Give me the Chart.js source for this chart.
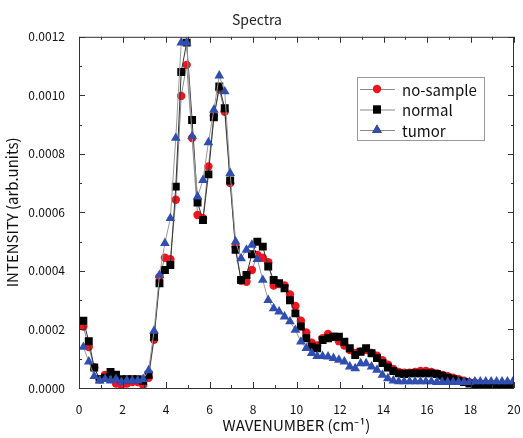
<!DOCTYPE html>
<html>
<head>
<meta charset="utf-8">
<script src="https://cdn.jsdelivr.net/npm/chart.js@4.4.0/dist/chart.umd.min.js"></script>
<style>
  html, body { margin: 0; padding: 0; background: #fff; }
  #wrap { width: 523px; height: 438px; }
</style>
</head>
<body>
<div id="wrap"><canvas id="spectra"></canvas></div>
<script>
// wavenumber (cm^-1) and intensities (arb.units)
var wavenumber = [
  0.2, 0.45, 0.7, 0.95, 1.2, 1.45, 1.7, 1.95, 2.2, 2.45,
  2.7, 2.95, 3.2, 3.45, 3.7, 3.95, 4.2, 4.45, 4.7, 4.95,
  5.2, 5.45, 5.7, 5.95, 6.2, 6.45, 6.7, 6.95, 7.2, 7.45,
  7.7, 7.95, 8.2, 8.45, 8.7, 8.95, 9.2, 9.45, 9.7, 9.95,
  10.2, 10.45, 10.7, 10.95, 11.2, 11.45, 11.7, 11.95, 12.2, 12.45,
  12.7, 12.95, 13.2, 13.45, 13.7, 13.95, 14.2, 14.45, 14.7, 14.95,
  15.2, 15.45, 15.7, 15.95, 16.2, 16.45, 16.7, 16.95, 17.2, 17.45,
  17.7, 17.95, 18.2, 18.45, 18.7, 18.95, 19.2, 19.45, 19.7, 19.95
];

var noSample = [
  0.00021, 0.00014, 0.00007, 0.00003, 0.000045, 0.000035, 0.000015, 0.00001, 0.000015, 0.00002,
  0.00002, 0.00001, 0.000035, 0.000165, 0.00038, 0.000445, 0.00044, 0.000643, 0.000998, 0.001104,
  0.000854, 0.000591, 0.00058, 0.000757, 0.00093, 0.00102, 0.000944, 0.0007, 0.000483, 0.000366,
  0.000363, 0.000403, 0.000455, 0.000445, 0.00043, 0.00035, 0.000355, 0.00035, 0.00032, 0.00028,
  0.00023, 0.00019, 0.000155, 0.000145, 0.00017, 0.000185, 0.000175, 0.00016, 0.000145, 0.00013,
  0.00012, 0.000125, 0.00013, 0.00012, 0.00011, 0.000095, 0.00008, 0.000065, 0.000055, 0.000052,
  0.000052, 0.000055, 0.000058, 0.000058, 0.000055, 0.00005, 0.000045, 0.00004, 0.000035, 0.00003,
  0.000025, 0.00002, 0.000018, 0.000015, 0.000015, 0.000015, 0.000012, 0.000012, 0.000012, 0.000012
];

var normal = [
  0.00023, 0.00016, 0.00007, 0.00003, 0.000035, 0.000055, 0.000045, 0.00003, 0.00003, 0.00003,
  0.00003, 0.000025, 0.000045, 0.000175, 0.000358, 0.000403, 0.00042, 0.000688, 0.00108, 0.00118,
  0.000916, 0.000634, 0.000574, 0.00073, 0.000925, 0.00103, 0.000956, 0.000709, 0.000472, 0.000369,
  0.000386, 0.000457, 0.0005, 0.000483, 0.000415, 0.000369, 0.000358, 0.000341, 0.0003, 0.000255,
  0.00021, 0.00017, 0.000141, 0.000136, 0.000164, 0.00017, 0.000175, 0.000175, 0.000158, 0.000136,
  0.000113, 0.000124, 0.000136, 0.000119, 0.000102, 0.000085, 0.00007, 0.000058, 0.00005, 0.000048,
  0.00005, 0.00005, 0.00005, 0.00005, 0.00005, 0.000048, 0.000042, 0.000035, 0.00003, 0.000025,
  0.00002, 0.000015, 0.000012, 0.000012, 0.000012, 0.00001, 0.00001, 0.00001, 0.00001, 0.00001
];

var tumor = [
  0.00014, 0.00009, 0.00004, 0.000025, 0.00003, 0.000025, 0.00003, 0.00002, 0.000025, 0.000025,
  0.000025, 0.00003, 0.00006, 0.000195, 0.000386, 0.000495, 0.00058, 0.000854, 0.00118, 0.00118,
  0.00086, 0.000654, 0.00071, 0.000839, 0.00095, 0.001067, 0.001013, 0.000734, 0.0005, 0.000443,
  0.000472, 0.000489, 0.00044, 0.000369, 0.0003, 0.000272, 0.000261, 0.000244, 0.000227, 0.000198,
  0.000158, 0.000136, 0.000119, 0.000109, 0.000109, 0.000107, 0.000102, 0.000096, 0.00009, 0.000073,
  0.000067, 0.000084, 0.000084, 0.000073, 0.000062, 0.000045, 0.000033, 0.000025, 0.000022, 0.000022,
  0.000022, 0.000022, 0.000022, 0.000022, 0.000022, 0.00002, 0.00002, 0.00002, 0.00002, 0.00002,
  0.00002, 0.00002, 0.000022, 0.000022, 0.000022, 0.000022, 0.000022, 0.000022, 0.000022, 0.000022
];

var xTicks = [0, 2, 4, 6, 8, 10, 12, 14, 16, 18, 20];
var yTicks = [0, 0.0002, 0.0004, 0.0006, 0.0008, 0.0010, 0.0012];

var FONT = "'Noto Sans CJK JP', 'Noto Sans', sans-serif";

function points(ys) {
  return wavenumber.map(function(x, i){ return { x: x, y: ys[i] }; });
}

// frame, inward major/minor ticks on all four sides, and the boxed legend
var framePlugin = {
  id: 'frame',
  afterDatasetsDraw: function(chart) {
    var ctx = chart.ctx, a = chart.chartArea;
    var xs = chart.scales.x, ys = chart.scales.y;
    ctx.save();
    ctx.strokeStyle = '#333';
    ctx.lineWidth = 1;
    ctx.strokeRect(a.left + 0.5, a.top + 0.5, a.right - a.left - 1, a.bottom - a.top);
    ctx.beginPath();
    for (var v = 0; v <= 20; v += 1) {
      var px = Math.round(xs.getPixelForValue(v)) + 0.5;
      var len = v % 2 === 0 ? 6 : 3;
      ctx.moveTo(px, a.bottom); ctx.lineTo(px, a.bottom - len);
      ctx.moveTo(px, a.top); ctx.lineTo(px, a.top + len);
    }
    for (var k = 0; k <= 12; k++) {
      var py = Math.round(ys.getPixelForValue(k * 0.0001)) + 0.5;
      var l2 = k % 2 === 0 ? 6 : 3;
      ctx.moveTo(a.left, py); ctx.lineTo(a.left + l2, py);
      ctx.moveTo(a.right, py); ctx.lineTo(a.right - l2, py);
    }
    ctx.stroke();

    // legend
    var lx = 357, ly = 77, lw = 127, lh = 63;
    ctx.fillStyle = '#fff';
    ctx.fillRect(lx, ly, lw, lh);
    ctx.strokeStyle = '#999';
    ctx.strokeRect(lx + 0.5, ly + 0.5, lw, lh);
    ctx.font = '15px ' + FONT;
    ctx.textBaseline = 'middle';
    ctx.textAlign = 'left';
    chart.data.datasets.forEach(function(ds, i){
      var rowY = ly + 12 + i * 20.5;
      ctx.strokeStyle = '#888';
      ctx.beginPath();
      ctx.moveTo(lx + 3, rowY + 0.5); ctx.lineTo(lx + 38, rowY + 0.5);
      ctx.stroke();
      Chart.helpers.drawPoint(ctx, {
        pointStyle: ds.pointStyle, radius: ds.pointRadius, borderWidth: 0
      }, lx + 20, rowY);
      ctx.fillStyle = ds.pointBackgroundColor;
      ctx.fill();
      ctx.fillStyle = '#111';
      ctx.fillText(ds.label, lx + 45, rowY + 1);
    });
    ctx.restore();
  }
};

new Chart(document.getElementById('spectra'), {
  type: 'line',
  data: {
    datasets: [
      { label: 'no-sample', data: points(noSample), order: 3,
        borderColor: '#8a8a8a', borderWidth: 1,
        pointStyle: 'circle', pointRadius: 4.2, pointBorderWidth: 0,
        pointBackgroundColor: '#f0141e' },
      { label: 'normal', data: points(normal), order: 2,
        borderColor: '#333', borderWidth: 1,
        pointStyle: 'rect', pointRadius: 5.6, pointBorderWidth: 0,
        pointBackgroundColor: '#000' },
      { label: 'tumor', data: points(tumor), order: 1,
        borderColor: '#9a9a9a', borderWidth: 1,
        pointStyle: 'triangle', pointRadius: 5.6, pointBorderWidth: 0,
        pointBackgroundColor: '#2f4eb0' }
    ]
  },
  options: {
    responsive: true,
    maintainAspectRatio: false,
    animation: false,
    layout: { padding: { left: 0, right: 9, top: 4, bottom: 0 } },
    plugins: {
      legend: { display: false },
      tooltip: { enabled: false },
      title: {
        display: true, text: 'Spectra', color: '#222',
        font: { family: FONT, size: 14, weight: 'normal' },
        padding: { top: 7, bottom: 9 }
      }
    },
    scales: {
      x: {
        type: 'linear', min: 0, max: 20,
        afterBuildTicks: function(s){ s.ticks = xTicks.map(function(v){ return { value: v }; }); },
        afterFit: function(s){ s.height = 50; s.paddingLeft = 0; s.paddingRight = 0; },
        grid: { display: false }, border: { display: false },
        ticks: { color: '#111', padding: 6, maxRotation: 0,
          font: { family: FONT, size: 12 } },
        title: { display: true, text: 'WAVENUMBER (cm⁻¹)', color: '#111',
          font: { family: FONT, size: 15 }, padding: { top: 5 } }
      },
      y: {
        type: 'linear', min: 0, max: 0.0012,
        afterBuildTicks: function(s){ s.ticks = yTicks.map(function(v){ return { value: v }; }); },
        afterFit: function(s){ s.width = 79; s.paddingTop = 0; s.paddingBottom = 0; },
        grid: { display: false }, border: { display: false },
        ticks: { color: '#111', padding: 6,
          font: { family: FONT, size: 12 },
          callback: function(v){ return Number(v).toFixed(4); } },
        title: { display: true, text: 'INTENSITY (arb.units)', color: '#111',
          font: { family: FONT, size: 15 }, padding: { top: 3, bottom: 4 } }
      }
    }
  },
  plugins: [framePlugin]
});
</script>
</body>
</html>
